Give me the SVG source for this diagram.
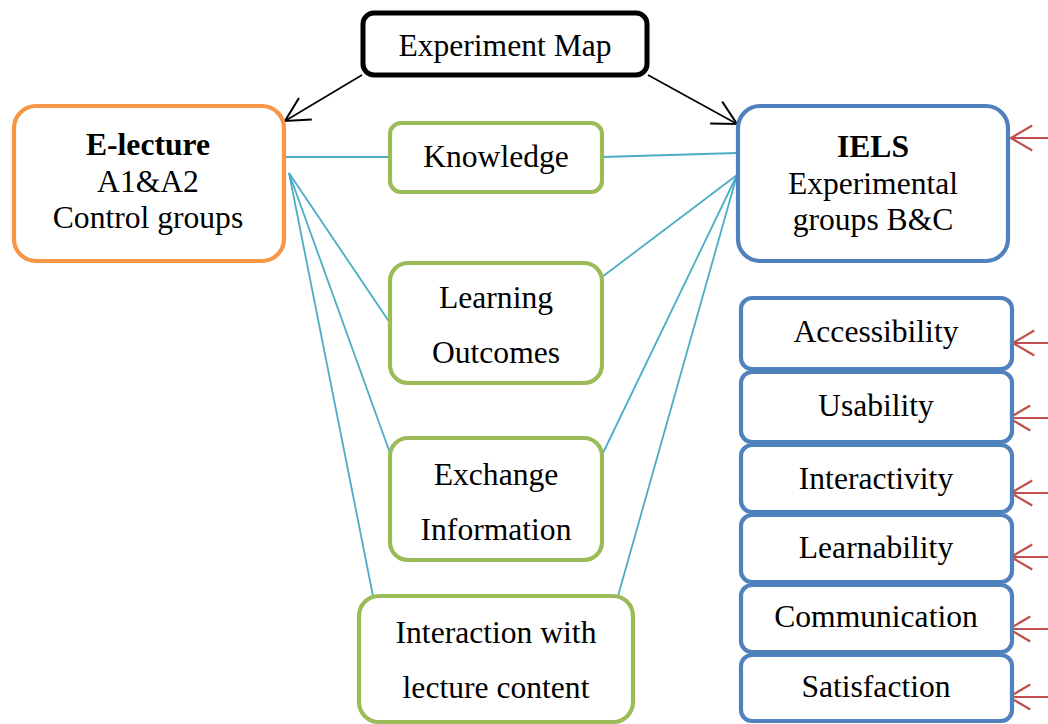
<svg xmlns="http://www.w3.org/2000/svg" width="1048" height="724" viewBox="0 0 1048 724">
<defs>
<style>
text{font-family:"Liberation Serif","Times New Roman",serif;font-size:31.6px;fill:#000;text-anchor:middle}
.b{font-weight:bold}
.box{fill:#fff;stroke-width:4.2}
.blk{stroke:#000;stroke-width:5}
.org{stroke:#F79646}
.blu{stroke:#4F81BD}
.grn{stroke:#9BBB59}
.cy{stroke:#4BACC6;stroke-width:1.8;fill:none}
.ar{stroke:#000;stroke-width:1.6;fill:none}
.rd{stroke:#C0504D;stroke-width:1.8;fill:none}
</style>
<marker id="mb" markerUnits="userSpaceOnUse" markerWidth="30" markerHeight="30" viewBox="-20 -12 24 24" refX="0" refY="0" orient="auto">
<path d="M-19,-10 L0,0 L-19,10" fill="none" stroke="#000" stroke-width="1.6"/>
</marker>
<marker id="mr" markerUnits="userSpaceOnUse" markerWidth="30" markerHeight="30" viewBox="-20 -12 24 24" refX="0" refY="0" orient="auto">
<path d="M-17,-10 L0,0 L-17,10" fill="none" stroke="#C0504D" stroke-width="1.8"/>
</marker>
</defs>
<rect width="1048" height="724" fill="#fff"/>
<g id="connectors">
<line class="ar" x1="362" y1="75" x2="285" y2="121" marker-end="url(#mb)"/>
<line class="ar" x1="648" y1="75" x2="737" y2="124" marker-end="url(#mb)"/>
<line class="cy" x1="286" y1="157" x2="390" y2="157"/>
<line class="cy" x1="289" y1="173" x2="390" y2="323"/>
<line class="cy" x1="289" y1="173" x2="390" y2="453"/>
<line class="cy" x1="289" y1="173" x2="373" y2="596"/>
<line class="cy" x1="602" y1="157" x2="737" y2="153"/>
<line class="cy" x1="737" y1="175" x2="602" y2="277"/>
<line class="cy" x1="737" y1="175" x2="603" y2="453"/>
<line class="cy" x1="737" y1="175" x2="618" y2="596"/>
<line class="rd" x1="1048" y1="138" x2="1011" y2="138" marker-end="url(#mr)"/>
<line class="rd" x1="1048" y1="343" x2="1013" y2="343" marker-end="url(#mr)"/>
<line class="rd" x1="1048" y1="418" x2="1009" y2="418" marker-end="url(#mr)"/>
<line class="rd" x1="1048" y1="493" x2="1011" y2="493" marker-end="url(#mr)"/>
<line class="rd" x1="1048" y1="557" x2="1011" y2="557" marker-end="url(#mr)"/>
<line class="rd" x1="1048" y1="629" x2="1009" y2="629" marker-end="url(#mr)"/>
<line class="rd" x1="1048" y1="697" x2="1009" y2="697" marker-end="url(#mr)"/>
</g>
<g id="experiment-map">
<rect class="box blk" x="363" y="13" width="284" height="62" rx="11"/>
<text x="505" y="56">Experiment Map</text>
</g>
<g id="e-lecture">
<rect class="box org" x="14" y="106" width="270" height="155" rx="22"/>
<text class="b" x="148" y="155">E-lecture</text>
<text x="148" y="192">A1&amp;A2</text>
<text x="148" y="228">Control groups</text>
</g>
<g id="iels">
<rect class="box blu" x="738" y="106" width="270" height="155" rx="22"/>
<text class="b" x="873" y="157">IELS</text>
<text x="873" y="194">Experimental</text>
<text x="873" y="230">groups B&amp;C</text>
</g>
<g id="knowledge">
<rect class="box grn" x="390" y="123" width="212" height="69" rx="11"/>
<text x="496" y="167">Knowledge</text>
</g>
<g id="learning-outcomes">
<rect class="box grn" x="390" y="263" width="212" height="120" rx="18"/>
<text x="496" y="308">Learning</text>
<text x="496" y="363">Outcomes</text>
</g>
<g id="exchange-information">
<rect class="box grn" x="390" y="438" width="212" height="122" rx="18"/>
<text x="496" y="485">Exchange</text>
<text x="496" y="540">Information</text>
</g>
<g id="interaction">
<rect class="box grn" x="359" y="596" width="274" height="126" rx="20"/>
<text x="496" y="643">Interaction with</text>
<text x="496" y="698">lecture content</text>
</g>
<g id="accessibility">
<rect class="box blu" x="741" y="298" width="271" height="71" rx="11"/>
<text x="876" y="342">Accessibility</text>
</g>
<g id="usability">
<rect class="box blu" x="741" y="372" width="271" height="70" rx="11"/>
<text x="876" y="416">Usability</text>
</g>
<g id="interactivity">
<rect class="box blu" x="741" y="445" width="271" height="67" rx="11"/>
<text x="876" y="489">Interactivity</text>
</g>
<g id="learnability">
<rect class="box blu" x="741" y="515" width="271" height="67" rx="11"/>
<text x="876" y="558">Learnability</text>
</g>
<g id="communication">
<rect class="box blu" x="741" y="585" width="271" height="67" rx="11"/>
<text x="876" y="627">Communication</text>
</g>
<g id="satisfaction">
<rect class="box blu" x="741" y="655" width="271" height="66" rx="11"/>
<text x="876" y="697">Satisfaction</text>
</g>
</svg>
